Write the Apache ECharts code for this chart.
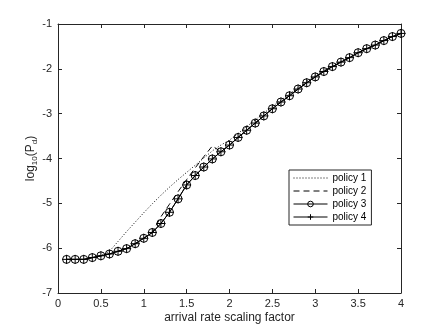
<!DOCTYPE html>
<html>
<head>
<meta charset="utf-8">
<script src="https://cdn.jsdelivr.net/npm/echarts@6/dist/echarts.min.js"></script>
<style>
  html, body { margin: 0; padding: 0; background: #fff; }
  #main { width: 443px; height: 329px; }
</style>
</head>
<body>
<div id="main"></div>
<script>
// arrival rate scaling factor
var xs = [0.1, 0.2, 0.3, 0.4, 0.5, 0.6, 0.7, 0.8, 0.9, 1.0,
          1.1, 1.2, 1.3, 1.4, 1.5, 1.6, 1.7, 1.8, 1.9, 2.0,
          2.1, 2.2, 2.3, 2.4, 2.5, 2.6, 2.7, 2.8, 2.9, 3.0,
          3.1, 3.2, 3.3, 3.4, 3.5, 3.6, 3.7, 3.8, 3.9, 4.0];

// log10(Pd) per policy
var policy1 = [-6.25, -6.25, -6.25, -6.21, -6.17, -6.07, -5.85, -5.63, -5.42, -5.21,
               -5.01, -4.82, -4.64, -4.47, -4.31, -4.15, -3.99, -3.83, -3.70, -3.59,
               -3.44, -3.29, -3.14, -2.99, -2.84, -2.70, -2.56, -2.42, -2.28, -2.15,
               -2.04, -1.93, -1.83, -1.74, -1.64, -1.55, -1.47, -1.37, -1.28, -1.21];
var policy2 = [-6.25, -6.25, -6.25, -6.21, -6.17, -6.13, -6.07, -6.01, -5.90, -5.78,
               -5.65, -5.30, -5.02, -4.74, -4.47, -4.21, -3.96, -3.72, -3.85, -3.70,
               -3.53, -3.37, -3.21, -3.05, -2.89, -2.74, -2.60, -2.45, -2.31, -2.18,
               -2.06, -1.95, -1.85, -1.75, -1.64, -1.55, -1.47, -1.37, -1.28, -1.21];
var policy3 = [-6.25, -6.25, -6.25, -6.21, -6.17, -6.13, -6.07, -6.01, -5.90, -5.78,
               -5.65, -5.45, -5.20, -4.90, -4.59, -4.38, -4.19, -4.01, -3.85, -3.70,
               -3.53, -3.37, -3.21, -3.05, -2.89, -2.74, -2.60, -2.45, -2.31, -2.18,
               -2.06, -1.95, -1.85, -1.75, -1.64, -1.55, -1.47, -1.37, -1.28, -1.21];
var policy4 = [-6.25, -6.25, -6.25, -6.21, -6.17, -6.13, -6.07, -6.01, -5.90, -5.78,
               -5.65, -5.45, -5.20, -4.90, -4.59, -4.38, -4.19, -4.01, -3.85, -3.70,
               -3.53, -3.37, -3.21, -3.05, -2.89, -2.74, -2.60, -2.45, -2.31, -2.18,
               -2.06, -1.95, -1.85, -1.75, -1.64, -1.55, -1.47, -1.37, -1.28, -1.21];

var names = ['policy 1', 'policy 2', 'policy 3', 'policy 4'];

function pairs(ys) {
    return xs.map(function (x, i) { return [x, ys[i]]; });
}

var ink = '#262626';
var font = 'Liberation Sans';
var plusPath = 'path://M5,0L5,10M0,5L10,5';
var noMark = { color: 'rgba(0,0,0,0)', borderWidth: 0, opacity: 0 };
var thinMark = { color: 'rgba(0,0,0,0)', borderColor: '#000', borderWidth: 1 };

var myChart = echarts.init(document.getElementById('main'));

var option = {
    animation: false,
    backgroundColor: '#fff',
    textStyle: { fontFamily: font },
    grid: { left: 58, right: 42, top: 24, bottom: 36 },
    legend: {
        data: [
            { name: names[0], itemStyle: noMark },
            { name: names[1], itemStyle: noMark },
            { name: names[2], itemStyle: thinMark },
            { name: names[3], itemStyle: thinMark }
        ],
        orient: 'vertical',
        left: 289,
        top: 170,
        itemWidth: 34,
        itemHeight: 7,
        itemGap: 3,
        padding: [3, 5, 3, 4],
        borderColor: ink,
        borderWidth: 1,
        backgroundColor: '#fff',
        lineStyle: { width: 1 },
        textStyle: { fontSize: 10, color: '#000', fontFamily: font }
    },
    xAxis: [{
        type: 'value', min: 0, max: 4, interval: 0.5,
        name: 'arrival rate scaling factor',
        nameLocation: 'middle', nameGap: 19,
        nameMoveOverlap: false,
        nameTextStyle: { fontSize: 12, color: ink, fontFamily: font },
        axisLine: { onZero: false, lineStyle: { color: ink, width: 1 } },
        axisTick: { inside: true, length: 4, lineStyle: { color: ink } },
        axisLabel: { fontSize: 11, color: ink, margin: 5 },
        splitLine: { show: false }
    }, {
        type: 'value', min: 0, max: 4, interval: 0.5, position: 'top',
        axisLine: { onZero: false, lineStyle: { color: ink, width: 1 } },
        axisTick: { inside: true, length: 4, lineStyle: { color: ink } },
        axisLabel: { show: false },
        splitLine: { show: false }
    }],
    yAxis: [{
        type: 'value', min: -7, max: -1, interval: 1,
        name: '{a|log}{s|10}{a|(P}{s|d}{a|)}',
        nameLocation: 'middle', nameGap: 19,
        nameMoveOverlap: false,
        nameTextStyle: {
            color: ink,
            rich: {
                a: { fontSize: 12, color: ink, fontFamily: font, lineHeight: 16, verticalAlign: 'middle' },
                s: { fontSize: 8, color: ink, fontFamily: font, lineHeight: 10, verticalAlign: 'bottom' }
            }
        },
        axisLine: { onZero: false, lineStyle: { color: ink, width: 1 } },
        axisTick: { inside: true, length: 4, lineStyle: { color: ink } },
        axisLabel: { fontSize: 11, color: ink, margin: 6 },
        splitLine: { show: false }
    }, {
        type: 'value', min: -7, max: -1, interval: 1, position: 'right',
        axisLine: { onZero: false, lineStyle: { color: ink, width: 1 } },
        axisTick: { inside: true, length: 4, lineStyle: { color: ink } },
        axisLabel: { show: false },
        splitLine: { show: false }
    }],
    series: [{
        name: names[0],
        type: 'line',
        data: pairs(policy1),
        symbol: 'none',
        lineStyle: { color: '#000', width: 1, type: [1, 2] },
        itemStyle: { color: '#000' }
    }, {
        name: names[1],
        type: 'line',
        data: pairs(policy2),
        symbol: 'none',
        lineStyle: { color: '#000', width: 1, type: [6, 4] },
        itemStyle: { color: '#000' }
    }, {
        name: names[2],
        type: 'line',
        data: pairs(policy3),
        symbol: 'circle',
        symbolSize: 8,
        lineStyle: { color: '#000', width: 1 },
        itemStyle: thinMark
    }, {
        name: names[3],
        type: 'line',
        data: pairs(policy4),
        symbol: plusPath,
        symbolSize: 9,
        lineStyle: { color: '#000', width: 1 },
        itemStyle: thinMark
    }]
};

myChart.setOption(option);
</script>
</body>
</html>
